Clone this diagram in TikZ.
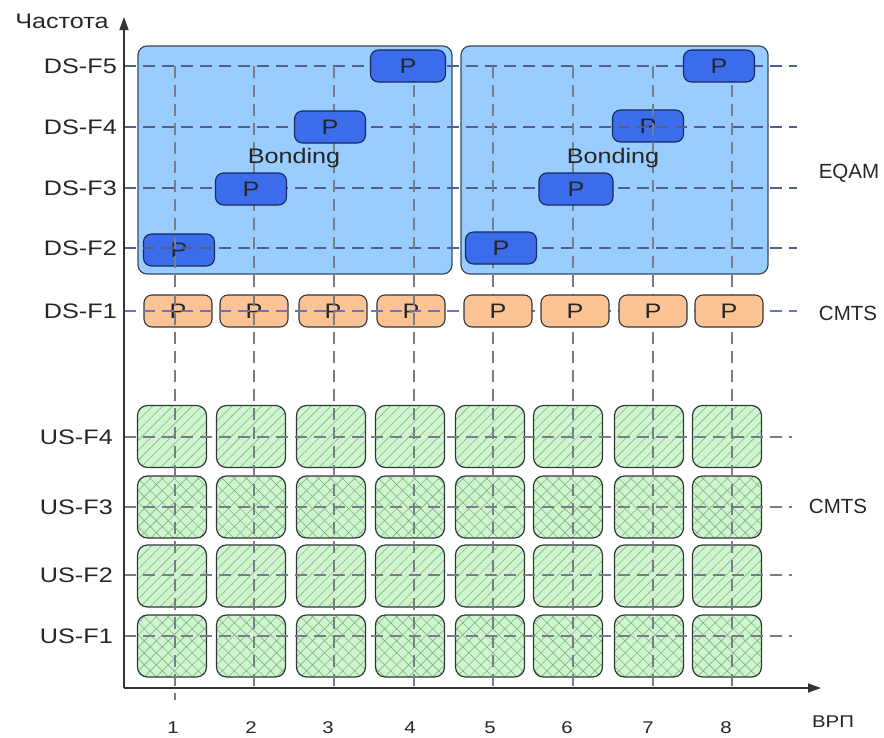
\documentclass[tikz,border=0pt]{standalone}
\usepackage{fontspec}
\setmainfont{Liberation Sans}[FakeStretch=1.2]
\newfontfamily\plainsans{Liberation Sans}
\usetikzlibrary{arrows.meta,patterns.meta}
\definecolor{bondfill}{RGB}{153,204,255}
\definecolor{bonddraw}{RGB}{60,72,90}
\definecolor{pdark}{RGB}{58,108,236}
\definecolor{pdarkdraw}{RGB}{25,40,90}
\definecolor{porange}{RGB}{252,196,148}
\definecolor{gfill}{RGB}{206,245,206}
\definecolor{ghatch}{RGB}{130,180,130}
\definecolor{dsline}{RGB}{80,95,140}
\definecolor{dsoneline}{RGB}{105,115,205}
\definecolor{gridgrey}{RGB}{120,126,136}
\definecolor{boxdraw}{RGB}{50,55,60}
\tikzset{
  lbl/.style={font=\fontsize{21}{25}\selectfont, text=black!85, inner sep=0pt},
  rlbl/.style={font=\plainsans\fontsize{20.5}{25}\selectfont, text=black!85, inner sep=0pt},
  numlbl/.style={font=\fontsize{17}{20}\selectfont, text=black!85, inner sep=0pt},
  bondbox/.style={draw=bonddraw, line width=1.2pt, fill=bondfill, rounded corners=9pt},
  pbox/.style={draw=pdarkdraw, line width=1.1pt, fill=pdark, rounded corners=8pt, minimum width=71pt, minimum height=32pt, inner sep=0pt, font=\fontsize{21}{25}\selectfont, text=black!85},
  obox/.style={draw=boxdraw, line width=1.1pt, fill=porange, rounded corners=8pt, minimum width=68pt, minimum height=32pt, inner sep=0pt, font=\fontsize{21}{25}\selectfont, text=black!85},
  gbox/.style={draw=boxdraw, line width=1.2pt, rounded corners=10pt, minimum width=69pt, minimum height=62pt, inner sep=0pt, preaction={fill=gfill}},
  glines/.style={gbox, pattern={Lines[angle=45,distance=7pt,line width=0.6pt]}, pattern color=ghatch},
  ghatchx/.style={gbox, pattern={Hatch[angle=45,distance=8.5pt,line width=0.6pt]}, pattern color=ghatch},
  hds/.style={draw=dsline, line width=1.2pt, dash pattern=on 12pt off 7pt},
  hdsone/.style={draw=dsoneline, line width=1.2pt, dash pattern=on 12pt off 7pt},
  hus/.style={draw=gridgrey, line width=1.1pt, dash pattern=on 12pt off 7pt},
  vgrid/.style={draw=gridgrey, line width=1.1pt, dash pattern=on 12pt off 7pt},
  axis/.style={draw=black!80, line width=1.5pt, -{Triangle[length=13pt,width=9pt]}}
}
\begin{document}
\begin{tikzpicture}[x=1pt,y=-1pt]
\useasboundingbox (0,0) rectangle (884,737);
% bonding boxes
\node[bondbox, minimum width=314pt, minimum height=228pt, inner sep=0pt] (bondL) at (295,160) {};
\node[bondbox, minimum width=307pt, minimum height=228pt, inner sep=0pt] (bondR) at (614.5,160) {};
% green boxes
\foreach \c/\x in {1/172,2/251,3/331,4/410,5/490,6/568,7/649,8/727}{
  \node[glines]  (g4\c) at (\x,436.5) {};
  \node[ghatchx] (g3\c) at (\x,507) {};
  \node[glines]  (g2\c) at (\x,576) {};
  \node[ghatchx] (g1\c) at (\x,646) {};
}
% boxes lying under the grid lines
\node[obox] (o1) at (178,311) {P};
\node[obox] (o2) at (254,311) {P};
\node[obox] (o3) at (333,311) {P};
\node[obox] (o4) at (411,311) {P};
\node[pbox] (p1) at (179,250) {P};
\node[pbox] (p7) at (648,126) {P};
% axis coordinates
\coordinate (O) at (124,688);
\coordinate (ytop) at (124,17);
\coordinate (xend) at (821,688);
% horizontal grid lines
\foreach \n/\y in {5/66,4/127,3/188,2/248}{
  \coordinate (hs\n) at (124,\y);
  \coordinate (he\n) at (797,\y);
  \draw[hds] (hs\n) -- (he\n);
}
\coordinate (hs1) at (124,311);
\coordinate (he1) at (797,311);
\draw[hdsone] (hs1) -- (he1);
\foreach \n/\y in {4/437,3/507,2/575,1/636}{
  \coordinate (us\n) at (124,\y);
  \coordinate (ue\n) at (792,\y);
  \draw[hus] (us\n) -- (ue\n);
}
% vertical grid lines
\foreach \c/\x in {1/175,2/254,3/334,4/414,5/493,6/573,7/653,8/732}{
  \coordinate (vt\c) at (\x,66);
  \coordinate (vb\c) at (\x,688);
}
\coordinate (vb1) at (175,700);
\foreach \c in {1,...,8}{ \draw[vgrid] (vt\c) -- (vb\c); }
% boxes lying over the grid lines
\node[pbox] (p2) at (251,189) {P};
\node[pbox] (p3) at (330,127) {P};
\node[pbox, minimum width=75pt] (p4) at (408,66) {P};
\node[pbox] (p5) at (501,248) {P};
\node[pbox, minimum width=74pt] (p6) at (576,189) {P};
\node[pbox] (p8) at (719,66) {P};
\node[obox] (o5) at (498,311) {P};
\node[obox] (o6) at (575,311) {P};
\node[obox] (o7) at (653,311) {P};
\node[obox] (o8) at (729,311) {P};
% bonding labels
\node[lbl] (bl) at (294,158) {Bonding};
\node[lbl] (br) at (613,158) {Bonding};
% axes
\draw[axis] (O) -- (ytop);
\draw[axis] (O) -- (xend);
% axis labels
\node[lbl] (yl) at (62,21) {Частота};
\node[numlbl] (xl) at (833,722) {ВРП};
% row labels
\node[lbl, anchor=east] (ds5) at (117,66) {DS-F5};
\node[lbl, anchor=east] (ds4) at (117,127) {DS-F4};
\node[lbl, anchor=east] (ds3) at (117,188) {DS-F3};
\node[lbl, anchor=east] (ds2) at (117,248) {DS-F2};
\node[lbl, anchor=east] (ds1) at (117,311) {DS-F1};
\node[lbl, anchor=east] (us4) at (113,437) {US-F4};
\node[lbl, anchor=east] (us3) at (113,507) {US-F3};
\node[lbl, anchor=east] (us2) at (113,575) {US-F2};
\node[lbl, anchor=east] (us1) at (113,636) {US-F1};
% right labels
\node[rlbl] (eqam) at (849,173) {EQAM};
\node[rlbl] (cmts1) at (848,313) {CMTS};
\node[rlbl] (cmts2) at (838,506) {CMTS};
% column numbers
\foreach \c/\x in {1/173,2/251,3/328,4/410,5/490,6/567,7/648,8/726}{
  \node[numlbl] (n\c) at (\x,728) {\c};
}
\end{tikzpicture}
\end{document}
